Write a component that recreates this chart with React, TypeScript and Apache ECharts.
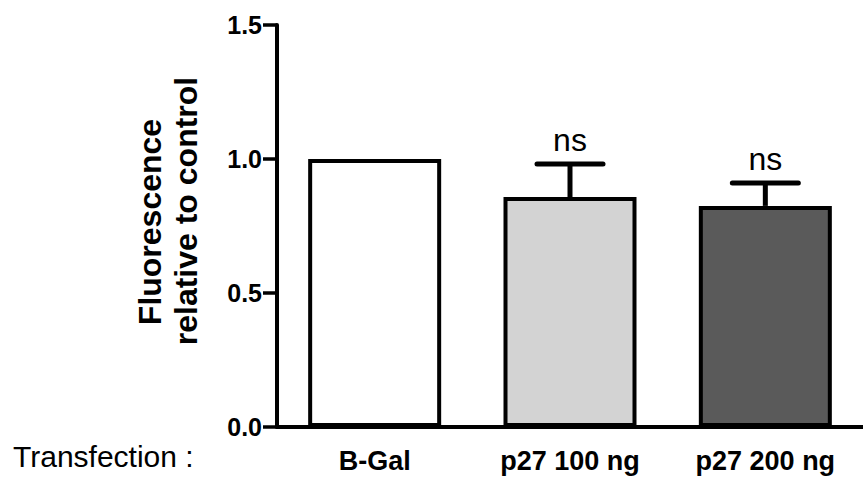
import React, { useEffect, useRef } from "react";
import * as echarts from "echarts";

const categories = ["B-Gal", "p27 100 ng", "p27 200 ng"];
const values = [1.0, 0.858, 0.825];
const errors = [0, 0.123, 0.085];
const significance = ["", "ns", "ns"];
const barColors = ["#ffffff", "#d3d3d3", "#5a5a5a"];
const yMin = 0;
const yMax = 1.5;
const yStep = 0.5;
const yTitleLines = ["Fluorescence", "relative to control"];
const xPrefix = "Transfection :";

const ARIAL = "'Liberation Sans', Arial, sans-serif";

export default function App() {
  const ref = useRef<HTMLDivElement>(null);
  useEffect(() => {
    if (!ref.current) return;
    const chart = echarts.init(ref.current, undefined, { renderer: "svg" });
    chart.setOption({
      animation: false,
      backgroundColor: "#ffffff",
      grid: { left: 277, top: 25, width: 594, height: 402 },
      xAxis: {
        type: "category",
        data: categories,
        axisLine: { lineStyle: { color: "#000", width: 4 } },
        axisTick: { alignWithLabel: true, length: 11, lineStyle: { color: "#000", width: 3 } },
        axisLabel: {
          interval: 0,
          hideOverlap: false,
          margin: 20,
          fontFamily: ARIAL,
          fontWeight: "bold",
          fontSize: 27,
          color: "#000",
        },
      },
      yAxis: {
        type: "value",
        min: yMin,
        max: yMax,
        interval: yStep,
        splitLine: { show: false },
        axisLine: { show: true, lineStyle: { color: "#000", width: 4 } },
        axisTick: { show: true, length: 14, lineStyle: { color: "#000", width: 3.5 } },
        axisLabel: {
          margin: 15,
          fontFamily: ARIAL,
          fontWeight: "bold",
          fontSize: 25,
          color: "#000",
          formatter: (v: number) => v.toFixed(1),
        },
      },
      graphic: [
        {
          type: "text",
          x: 150,
          y: 222,
          rotation: Math.PI / 2,
          style: { text: yTitleLines[0], font: `bold 32px ${ARIAL}`, fill: "#000", align: "center", verticalAlign: "middle" },
        },
        {
          type: "text",
          x: 186,
          y: 211,
          rotation: Math.PI / 2,
          style: { text: yTitleLines[1], font: `bold 32px ${ARIAL}`, fill: "#000", align: "center", verticalAlign: "middle" },
        },
        {
          type: "text",
          x: 13,
          y: 456,
          style: { text: xPrefix, font: `30px ${ARIAL}`, fill: "#000", align: "left", verticalAlign: "middle" },
        },
      ],
      series: [
        {
          type: "bar",
          barWidth: 133,
          data: values.map((v, i) => ({ value: v, itemStyle: { color: barColors[i] } })),
          itemStyle: { borderColor: "#000", borderWidth: 4 },
          z: 2,
        },
        {
          type: "custom",
          z: 3,
          data: values.map((v, i) => [i, v, errors[i]]),
          renderItem: (params: any, api: any) => {
            const i = params.dataIndex;
            const e = api.value(2);
            if (!e) return { type: "group", children: [] };
            const base = api.coord([api.value(0), api.value(1)]);
            const top = api.coord([api.value(0), api.value(1) + e]);
            const x = base[0];
            return {
              type: "group",
              children: [
                { type: "line", shape: { x1: x, y1: base[1], x2: x, y2: top[1] }, style: { stroke: "#000", lineWidth: 5 } },
                {
                  type: "line",
                  shape: { x1: x - 33, y1: top[1], x2: x + 33, y2: top[1] },
                  style: { stroke: "#000", lineWidth: 5, lineCap: "round" },
                },
                {
                  type: "text",
                  x,
                  y: top[1] - 24,
                  style: {
                    text: significance[i],
                    font: `32px ${ARIAL}`,
                    fill: "#000",
                    align: "center",
                    verticalAlign: "middle",
                  },
                },
              ],
            };
          },
        },
      ],
    });
    return () => chart.dispose();
  }, []);
  return <div ref={ref} style={{ position: "absolute", left: 0, top: 0, width: 863, height: 477 }} />;
}
